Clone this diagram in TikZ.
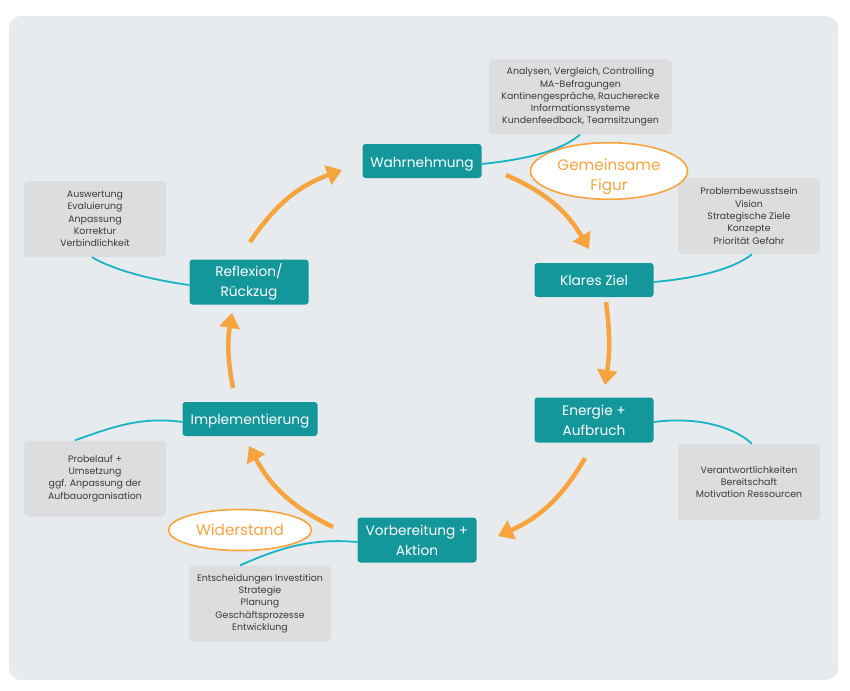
\documentclass[tikz,border=0pt]{standalone}
\usepackage{fontspec}
\setmainfont{Poppins}
\usetikzlibrary{arrows.meta,shapes.geometric}
\definecolor{bgpanel}{HTML}{E8EBEE}
\definecolor{tealbox}{HTML}{13979A}
\definecolor{cyanline}{HTML}{17B3C6}
\definecolor{orangearr}{HTML}{F7A43E}
\definecolor{graybox}{HTML}{DCDDDF}
\definecolor{graytext}{HTML}{3A3A3A}
\newcommand{\lowertext}[2]{\raisebox{-#1}[\height][\depth]{\begin{tabular}{@{}c@{}}#2\end{tabular}}}
\tikzset{
  stage/.style={fill=tealbox, text=white, rounded corners=3pt, minimum width=119pt,
    minimum height=34pt, align=center, font=\fontsize{13.7}{20}\selectfont, inner sep=2pt},
  info/.style={fill=graybox, text=graytext, rounded corners=4pt, minimum width=142pt,
    minimum height=76pt, align=center, font=\fontsize{9.4}{12.3}\selectfont, inner sep=2pt},
  tag/.style={ellipse, draw=orangearr, line width=1.6pt, fill=white, text=orangearr,
    align=center, font=\fontsize{15.2}{20}\selectfont, inner sep=0pt},
  link/.style={cyanline, line width=1.8pt},
  flow/.style={orangearr, line width=4.5pt, -{Triangle[length=15pt,width=20pt]}}
}
\begin{document}
\begin{tikzpicture}[x=1pt,y=-1pt]
\useasboundingbox (0,0) rectangle (850,690);
\fill[white] (0,0) rectangle (850,690);
\fill[bgpanel, rounded corners=12pt] (9,16) rectangle (838,680);

% stage nodes
\node[stage] (wahr) at (422,161) {\lowertext{2pt}{Wahrnehmung}};
\node[stage] (ziel) at (594,280) {\lowertext{1pt}{Klares Ziel}};
\node[stage, minimum height=45pt] (energie) at (594,420) {Energie +\\Aufbruch};
\node[stage, minimum height=45pt] (vorb) at (417,540) {Vorbereitung +\\Aktion};
\node[stage, minimum width=135pt] (impl) at (250,419) {\lowertext{1pt}{Implementierung}};
\node[stage, minimum height=45pt] (refl) at (249,282) {Reflexion/\\Rückzug};

% info boxes
\node[info, minimum width=183pt, minimum height=75pt] (iwahr) at (580.5,97) {Analysen, Vergleich, Controlling\\MA-Befragungen\\Kantinengespräche, Raucherecke\\Informationssysteme\\Kundenfeedback, Teamsitzungen};
\node[info] (iziel) at (749,216) {Problembewusstsein\\Vision\\Strategische Ziele\\Konzepte\\Priorität Gefahr};
\node[info] (ienergie) at (749,482) {Verantwortlichkeiten\\Bereitschaft\\Motivation Ressourcen};
\node[info] (ivorb) at (260,603.5) {Entscheidungen Investition\\Strategie\\Planung\\Geschäftsprozesse\\Entwicklung};
\node[info] (iimpl) at (95,478.5) {Probelauf +\\Umsetzung\\ggf. Anpassung der\\Aufbauorganisation};
\node[info] (irefl) at (95,219) {Auswertung\\Evaluierung\\Anpassung\\Korrektur\\Verbindlichkeit};

% tags
\node[tag, minimum width=157pt, minimum height=47pt] (gem) at (609,171) {\lowertext{5pt}{Gemeinsame\\Figur}};
\node[tag, minimum width=143pt, minimum height=41pt] (wid) at (240,530) {Widerstand};

% cyan links
\draw[link] ([yshift=-3pt]wahr.east) .. controls (540,158) and (565,147) .. ([xshift=-0.5pt]iwahr.south);
\draw[link] ([yshift=-2pt]ziel.east) .. controls (700,278) and (735,268) .. ([xshift=3pt]iziel.south);
\draw[link] ([yshift=-2pt]energie.east) .. controls (700,416) and (735,428) .. ([xshift=3pt]ienergie.north);
\draw[link] ([yshift=-2pt]vorb.west) .. controls (310,538) and (280,548) .. ([xshift=-20pt]ivorb.north);
\draw[link] ([yshift=-3pt]impl.west) .. controls (140,416) and (110,428) .. ([xshift=-20pt]iimpl.north);
\draw[link] ([yshift=-3pt]refl.west) .. controls (145,279) and (110,268) .. ([xshift=-3pt]irefl.south);

% arrow end points
\coordinate (a1s) at (506,175);
\coordinate (a1e) at (589,249);
\coordinate (a2s) at (606,302);
\coordinate (a2e) at (605,385);
\coordinate (a3s) at (585,458);
\coordinate (a3e) at (498,536);
\coordinate (a4s) at (333,527);
\coordinate (a4e) at (249,446);
\coordinate (a5s) at (233,388);
\coordinate (a5e) at (232,313);
\coordinate (a6s) at (250,242);
\coordinate (a6e) at (342,170);

\draw[flow] (a1s) to[bend left=18] (a1e);
\draw[flow] (a2s) to[bend left=8] (a2e);
\draw[flow] (a3s) to[bend left=18] (a3e);
\draw[flow] (a4s) to[bend left=18] (a4e);
\draw[flow] (a5s) to[bend left=10] (a5e);
\draw[flow] (a6s) to[bend left=18] (a6e);
\end{tikzpicture}
\end{document}
